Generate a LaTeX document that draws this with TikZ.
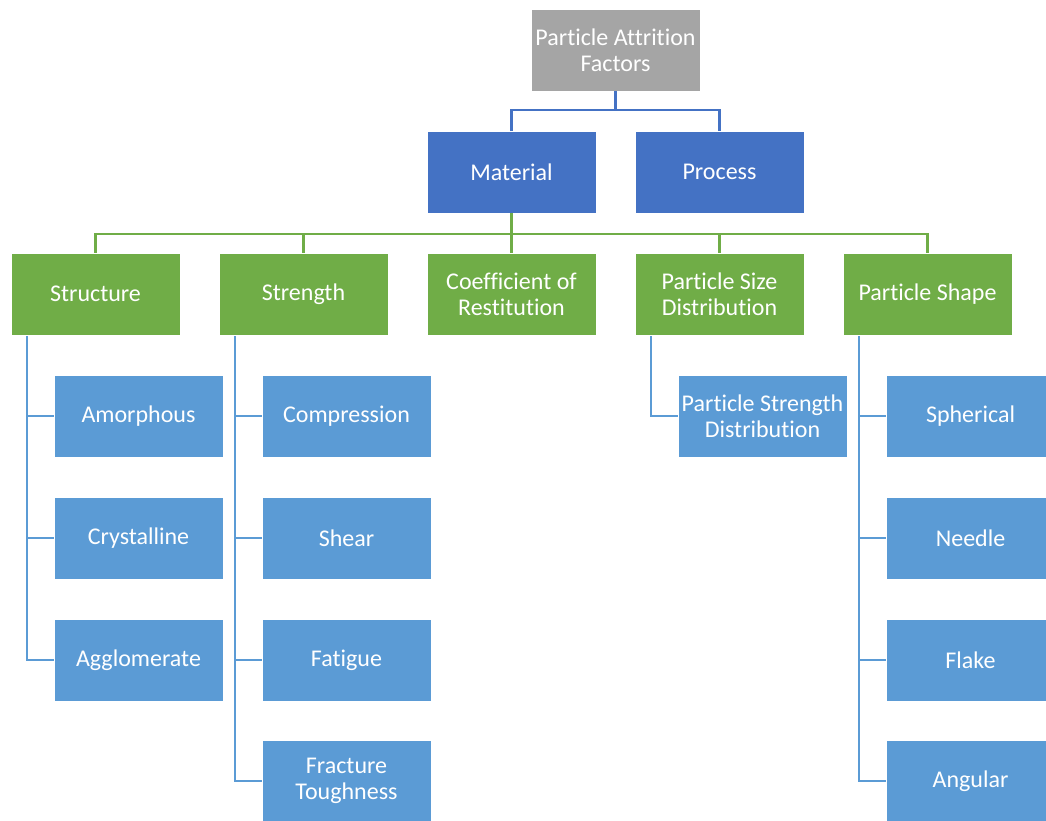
\documentclass[tikz,border=0pt]{standalone}
\usepackage{fontspec}
\setmainfont[Ligatures=NoCommon]{Carlito}
\definecolor{cgray}{HTML}{A5A5A5}
\definecolor{cdblue}{HTML}{4472C4}
\definecolor{cgreen}{HTML}{70AD47}
\definecolor{clblue}{HTML}{5B9BD5}
\begin{document}
\begin{tikzpicture}[x=1pt,y=-1pt,
  box/.style={draw=white,line width=0.8pt,minimum width=169pt,minimum height=82pt,inner sep=0pt,align=center,text=white,font=\fontsize{24}{26}\selectfont},
  gbox/.style={box,fill=cgray},
  dbox/.style={box,fill=cdblue},
  grbox/.style={box,fill=cgreen},
  lbox/.style={box,fill=clblue},
  dline/.style={draw=cdblue,line width=2.6pt},
  gline/.style={draw=cgreen,line width=2.6pt},
  lline/.style={draw=clblue,line width=2.6pt}]
\useasboundingbox (0,0) rectangle (1046,820);
\clip (0,0) rectangle (1046,820);
% top
\node[gbox] (top) at (615.5,50) {Particle Attrition\\Factors};
\node[dbox] (mat) at (511.5,172) {Material};
\node[dbox] (pro) at (719.5,172) {Process};
\coordinate (tj) at (615.5,110);
\path[dline] (top.south) -- (tj);
\path[dline] (mat.north) |- (tj) -| (pro.north);
% green row
\node[grbox] (str) at (95.5,294) {Structure};
\node[grbox] (stg) at (303.5,294) {Strength};
\node[grbox] (coe) at (511.5,294) {Coefficient of\\Restitution};
\node[grbox] (psd) at (719.5,294) {Particle Size\\Distribution};
\node[grbox] (shp) at (927.5,294) {Particle Shape};
\coordinate (mj) at (511.5,234);
\path[gline] (mat.south) -- (mj);
\path[gline] (str.north) |- (mj) -| (shp.north);
\path[gline] (stg.north) -- (stg.north |- mj);
\path[gline] (coe.north) -- (mj);
\path[gline] (psd.north) -- (psd.north |- mj);
% structure children
\node[lbox] (amo) at (138.5,416) {Amorphous};
\node[lbox] (cry) at (138.5,538) {Crystalline};
\node[lbox] (agg) at (138.5,660) {Agglomerate};
\coordinate (sx) at (27,336);
\path[lline] (sx) |- (agg.west);
\path[lline] (sx |- amo.west) -- (amo.west);
\path[lline] (sx |- cry.west) -- (cry.west);
% strength children
\node[lbox] (com) at (346.5,416) {Compression};
\node[lbox] (she) at (346.5,538) {Shear};
\node[lbox] (fat) at (346.5,660) {Fatigue};
\node[lbox] (fra) at (346.5,781) {Fracture\\Toughness};
\coordinate (gx) at (235,336);
\path[lline] (gx) |- (fra.west);
\path[lline] (gx |- com.west) -- (com.west);
\path[lline] (gx |- she.west) -- (she.west);
\path[lline] (gx |- fat.west) -- (fat.west);
% psd child
\node[lbox] (psdc) at (762.5,416) {Particle Strength\\Distribution};
\coordinate (px) at (651,336);
\path[lline] (px) |- (psdc.west);
% shape children
\node[lbox] (sph) at (970.5,416) {Spherical};
\node[lbox] (nee) at (970.5,538) {Needle};
\node[lbox] (fla) at (970.5,660) {Flake};
\node[lbox] (ang) at (970.5,781) {Angular};
\coordinate (hx) at (859,336);
\path[lline] (hx) |- (ang.west);
\path[lline] (hx |- sph.west) -- (sph.west);
\path[lline] (hx |- nee.west) -- (nee.west);
\path[lline] (hx |- fla.west) -- (fla.west);
\end{tikzpicture}
\end{document}
